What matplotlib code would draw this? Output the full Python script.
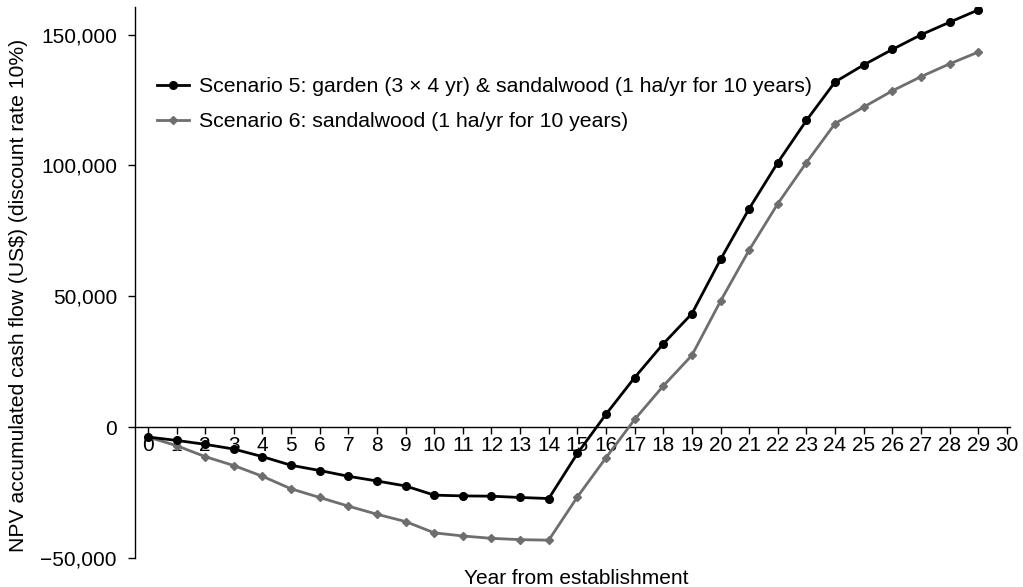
import matplotlib
matplotlib.use("Agg")
import matplotlib.pyplot as plt
from matplotlib.ticker import FuncFormatter

plt.rcParams['font.family'] = ['Liberation Sans', 'DejaVu Sans']

years = list(range(0, 30))
scenario5 = [-3700, -5000, -6500, -8300, -11200, -14500, -16500, -18700, -20500, -22400,
             -25900, -26200, -26300, -26800, -27200, -10000, 5000, 19000, 31900, 43400,
             64100, 83500, 101100, 117200, 131900, 138400, 144300, 149900, 154700, 159400]
scenario6 = [-3700, -7000, -11200, -14600, -18700, -23500, -26800, -30100, -33200, -36000,
             -40300, -41500, -42400, -42900, -43100, -26600, -11600, 3000, 15800, 27500,
             48200, 67700, 85400, 101100, 116000, 122300, 128500, 133900, 138800, 143300]
label5 = "Scenario 5: garden (3 \u00d7 4 yr) & sandalwood (1 ha/yr for 10 years)"
label6 = "Scenario 6: sandalwood (1 ha/yr for 10 years)"
xticks = list(range(0, 31))
yticks = [-50000, 0, 50000, 100000, 150000]

fig = plt.figure(figsize=(10.23, 5.87), dpi=100)
ax = fig.add_axes([0.132, 0.049, 0.855, 0.939])

ax.plot(years, scenario5, color='black', lw=2, marker='o', ms=5.5, label=label5, zorder=4)
ax.plot(years, scenario6, color='#6e6e6e', lw=2, marker='D', ms=4, label=label6, zorder=3)

ax.set_xlim(-0.45, 30.1)
ax.set_ylim(-50000, 160500)
ax.spines['top'].set_visible(False)
ax.spines['right'].set_visible(False)
ax.spines['bottom'].set_position(('data', 0))
ax.spines['left'].set_bounds(-50000, 160500)
for s in ('left', 'bottom'):
    ax.spines[s].set_linewidth(1.0)

ax.set_xticks(xticks)
ax.set_xticklabels([str(t) for t in xticks])
ax.set_yticks(yticks)
ax.yaxis.set_major_formatter(FuncFormatter(lambda v, p: f"{int(v):,}".replace('-', '\u2212')))
ax.tick_params(axis='both', labelsize=15, length=5, width=1, direction='out', pad=1)
ax.tick_params(axis='y', pad=8)

fig.text(0.0176, 0.496, "NPV accumulated cash flow (US$) (discount rate 10%)", fontsize=15.2,
         rotation=90, ha='center', va='center')
fig.text(0.563, 0.015, "Year from establishment", fontsize=15, ha='center', va='center')

ax.legend(loc='upper left', bbox_to_anchor=(0.008, 0.90), frameon=False, fontsize=15.3,
          handlelength=1.5, handletextpad=0.5, labelspacing=0.75, borderaxespad=0.3)

fig.savefig("out.png", dpi=100)
